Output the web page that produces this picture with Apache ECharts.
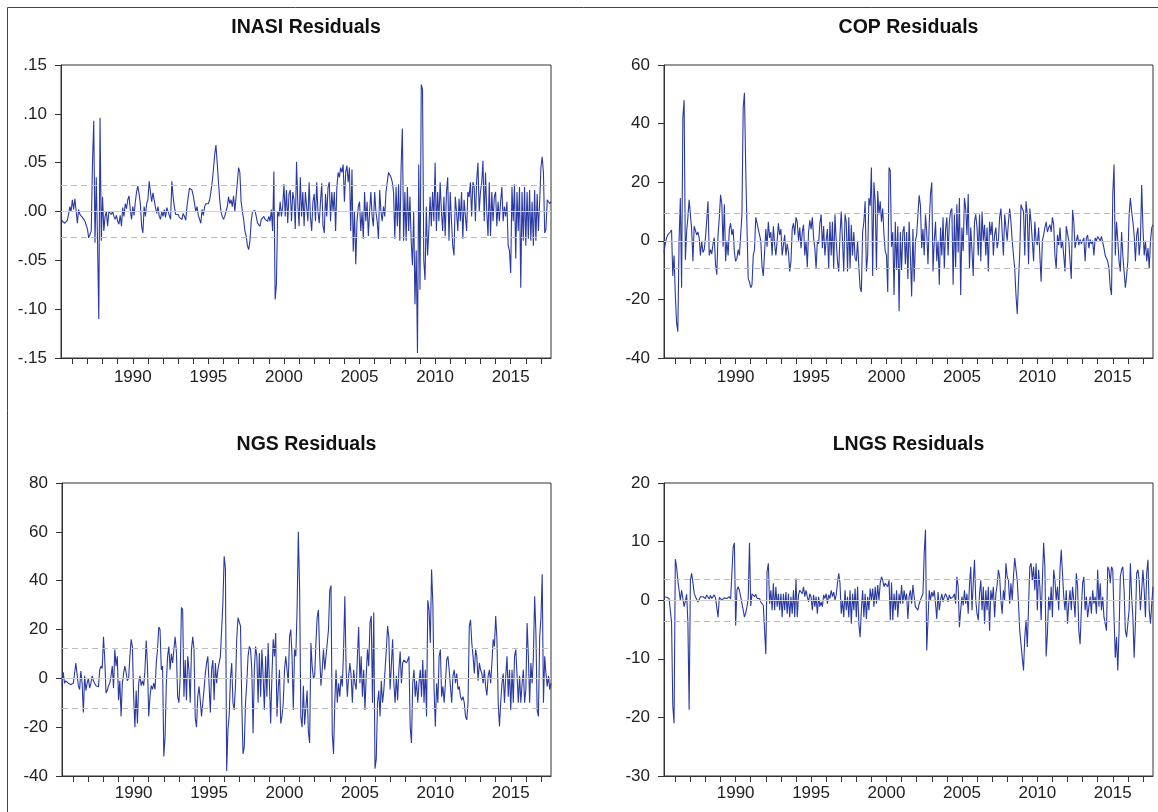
<!DOCTYPE html>
<html><head><meta charset="utf-8">
<script src="https://cdn.jsdelivr.net/npm/echarts@6/dist/echarts.min.js"></script>
<style>html,body{margin:0;padding:0;background:#fff;}#c{width:1158px;height:812px;}</style>
</head><body><div id="c"></div>
<script>
// Monthly sample 1985M04 - 2017M09
const startYear = 1985, startMonth = 4, endYear = 2017, endMonth = 9;
const yearLabels = [1990, 1995, 2000, 2005, 2010, 2015];
const tickYears = [1986,1987,1988,1989,1990,1991,1992,1993,1994,1995,1996,1997,1998,1999,2000,2001,
                   2002,2003,2004,2005,2006,2007,2008,2009,2010,2011,2012,2013,2014,2015,2016,2017];
const titles = ['INASI Residuals', 'COP Residuals', 'NGS Residuals', 'LNGS Residuals'];

const inasi = [
-0.006,-0.010,-0.011,-0.012,-0.012,-0.009,-0.003,0.005,0.000,
0.012,0.002,0.013,0.014,-0.012,0.002,-0.003,-0.005,-0.006,-0.008,-0.010,-0.012,
-0.018,-0.027,-0.028,-0.020,0.050,0.093,-0.032,0.035,-0.030,-0.110,0.096,-0.030,
0.015,-0.020,-0.005,0.000,-0.015,0.000,0.001,-0.003,0.000,-0.005,-0.008,-0.004,
-0.010,-0.013,-0.004,-0.015,0.004,-0.005,0.008,0.003,0.012,0.016,0.002,-0.008,
0.005,-0.004,0.010,0.020,0.026,0.018,0.008,-0.015,-0.022,0.005,-0.005,0.008,
0.012,0.031,0.020,0.010,0.019,0.012,0.004,-0.002,0.005,-0.005,-0.008,0.000,
-0.005,0.002,-0.006,0.004,0.003,-0.004,-0.008,0.031,0.015,0.005,-0.003,-0.004,
-0.003,-0.006,-0.004,-0.008,-0.002,-0.005,-0.009,0.005,0.015,0.024,0.026,0.022,
0.016,0.008,0.000,0.005,-0.004,-0.008,-0.012,0.002,-0.004,0.005,0.008,0.010,
0.008,0.012,0.020,0.030,0.043,0.058,0.068,0.050,0.030,0.012,0.000,-0.005,
-0.008,-0.005,0.000,0.005,0.015,0.008,0.012,0.005,0.016,0.000,0.015,0.030,
0.045,0.040,0.010,0.000,-0.008,-0.020,-0.025,-0.035,-0.039,-0.030,-0.010,0.000,
0.000,0.001,-0.005,-0.012,-0.010,-0.015,-0.008,-0.010,-0.005,-0.008,-0.006,-0.010,
-0.005,-0.010,0.002,-0.020,0.041,-0.090,-0.075,0.000,-0.005,0.010,-0.005,0.005,
0.028,-0.005,0.022,-0.012,0.018,0.022,-0.010,0.020,0.012,-0.018,0.051,0.008,
-0.015,0.035,-0.005,0.020,-0.015,0.020,0.005,-0.010,0.030,-0.005,-0.020,0.010,
0.018,-0.010,0.030,0.000,-0.012,0.010,0.029,-0.015,-0.022,0.018,-0.005,0.025,
0.030,-0.010,0.020,0.000,0.020,-0.020,0.025,0.040,0.035,0.045,0.040,0.048,
0.010,0.040,0.047,0.030,0.045,-0.020,0.043,-0.041,0.000,-0.054,-0.010,0.005,
0.010,-0.020,0.000,-0.028,0.020,-0.010,0.010,-0.025,0.000,0.020,-0.005,-0.015,
0.020,0.000,-0.010,-0.028,0.022,0.000,-0.010,0.005,-0.005,0.020,0.030,0.040,
0.040,0.035,0.030,0.020,-0.028,0.025,-0.015,0.028,-0.030,0.045,0.085,-0.030,
0.020,-0.030,0.025,-0.020,0.015,-0.030,-0.055,0.000,-0.095,-0.040,-0.145,0.048,
-0.080,0.130,0.125,-0.050,-0.070,0.005,-0.045,-0.020,0.015,-0.015,0.020,-0.010,
0.050,-0.020,0.020,-0.010,0.030,0.000,-0.020,0.015,-0.025,0.020,0.035,-0.030,
0.020,-0.010,-0.035,-0.045,0.015,0.000,-0.020,0.013,-0.010,0.020,-0.028,0.012,
0.010,-0.020,0.020,0.015,0.030,-0.005,0.030,0.025,-0.010,0.032,0.050,0.000,
0.020,0.030,0.052,-0.010,0.040,0.000,-0.025,0.030,-0.025,0.020,-0.010,0.015,
0.020,-0.015,0.010,-0.010,0.010,0.025,-0.010,0.005,-0.005,0.010,-0.035,-0.040,
-0.063,0.025,-0.010,0.028,-0.048,0.020,-0.020,0.025,-0.078,0.020,-0.030,0.025,
-0.035,0.020,-0.028,0.022,-0.030,0.010,-0.035,0.022,-0.030,0.018,-0.020,0.010,
0.045,0.056,0.040,-0.022,-0.018,0.012,0.010,0.008,0.010
];

const cop = [
-4,-1,1,2,1.5,3,3.7,-12,-5,
-18.5,-28,-31,0,14.6,-16,42,48,-6.5,3,8,14,
13.5,4,-7,5,4.5,2,3,1,-5,0,-4,-3,
1,7,13.5,-5,-3,-4.5,-1,1,-8,-11.6,2,8,
15.7,12.5,-2,12.5,-7,0,-5,4,6,2,4,-4,
-7,-6,-3,-5,2,9,45.5,50.5,25,5,-13,-14,
-16,-15,-5,-3,8,8,4,2,0,-9,-12,-4,
4,-2,6.5,1,3,-5,5,-1,-5,0,6,2,
4,-5,-1.5,2,-5,-1,-4,-10.5,-7,4,6,2,
8,6.5,0,4.5,-2.5,3,5.5,-5,0,-9,3,7,
4,8,1,-2.5,-9.5,0,-1,6,9,-2.5,5,-5,
0,4,-9.5,6.5,-5,6.5,-9.5,9,0,-7,-10.5,2,
10,0,-10.5,9,6.5,-10.5,8,-9.5,5.5,-5,3,-6,
-7,0,-9,-16,-17.5,3,6.5,13.5,-10.5,-5,14.6,12,
25,-12,20,13.5,-10,17,9,13.5,6.5,11,2,-3.5,
-5,-17.5,25,24,-2,3,-18.5,6.5,-10,5,-24,3,
-10,3,5,-8,3,-13,6.5,-5,-19,4,-14,0,
2,9,15.5,12,-2.5,4,-5,9,3,-8,6,16,
20,-10.5,0,6.5,-7,0,-15,4.5,-5,8,-9.5,4,
8,-5,6.5,10,11,-15,9,-9,12.5,-4,14.6,-18.5,
4.5,-3.5,14.6,11,2,16,-9.5,4.5,-3.5,-12,6.5,9,
4.5,-5,9,-7,10,0,5.5,-5,4.5,-10.5,6.5,2,
6.5,-5,2,4.5,-2.5,0,8,11,3,-5,9,4.5,
0,6.5,11,6.5,0,-5,-9.5,-18.5,-25,-14,-4,12.4,
11,10,-5,13.5,9,-8,11,6.5,0,-7,6.5,0,
-1.5,4.5,-5,-14,0,2,4.5,6.5,3,4.5,5.5,3,
8,5.5,-5,-9.5,2,-1.5,4.5,-2.5,0,-5,-10.5,5,
4.5,0,-7,-13,10.5,6.5,-2.5,0,2,-1.5,0.5,-1,
0,1,-7,1,2,-2.5,0.5,-1,0,-5,1,0,
1.5,2,0,1.5,1,-2.5,-5,-5,-7,-9.5,-16,-18.5,
15.8,26,-5,6.5,0,-7,-10.5,3,-5,-10.5,-16,-12,
-7,9,14.6,10,6.5,2,-7,2,4.5,-5,0,19,
4.5,-5,0,-7,-2.5,-9.5,0,4.5,5.5
];

const ngs = [
-3,2.5,-2,-1,-1.5,-2,-1.5,-2.5,-3,
-2,2,6.3,6.5,-3,-4.6,3,-2,-14,1,-5,-2,
0,-4,-2,1,-1,-2,-3,-2.5,-3.5,3.5,5,4,
17,8,-6,-5,-3,-2,1,5,-4,11.8,5,9,
-9,-1,-15.6,-2,2,5,2.5,-1,0,9,16,13,
-7.5,-20,-5,-18.5,-2,1,-3,-1,-3,3.5,15.5,5,
-15.6,-7.5,-3,-4.5,-2,-4.5,6.3,12,21,20,3.5,5,
-32,-24,-2,9,13,3.5,10,6.3,11.8,17,11,-7.5,
-10,0,29,28,-7.5,7.5,-9,9,3.5,-10,11.8,17,
12,-16.3,-20,-7.5,-3.3,-9,-15.6,-10,-4.6,2,6.3,9,
9,-14,3.5,7.5,-9,6.3,-2,3.5,6.3,9,20,31,
50,45,-38,-21,-15,0,6.3,-10,-13,-3,16,24.8,
24,21.4,-10,-31,-28,-10,-2,9,13,12,3.5,-22.5,
3.5,13,9,-10,10.4,-7.5,11.8,1,-13,9,-7.5,14.5,
-2,-18.5,1,16,9,18.6,-15.6,-4.6,3.5,-18.5,-15.6,-10,
3.5,9,3.5,-2,17,20,9,-13,11.8,9,28,60,
37,-16,-20,-3,-19,-12,-5,-22,-26.5,14.5,5,0,
1,14.5,25,28,9,-3,3.5,11.8,3.5,9,14.5,20,
36,38,-22.5,-31,-10,3.5,-10,-2,-7.5,1,-3.3,11.8,
33.6,4,-7.5,1,6.3,1,-10,3.5,-2,-4.6,9,21,
-2,9,-7.5,3.5,-13,1,11.8,5,22.7,25.5,-10,27,
-37,-33,-10,-5,-15.6,-1,-10,-5,3.5,11.8,21.4,17,
-4.6,5,16,-2,-10,1,-9,3.5,11,-2,6.3,7.5,
7.5,6.3,7.5,9,-20,-26.5,-2,3.5,-7.5,-1,-10,-2,
3.5,-7.5,7.5,-10,3.5,-15.6,32,28,14.5,44.6,31,-5,
-19.7,-2,-10,9,11.8,-7.5,-3.3,-10,-2,7.5,9,3.5,
-3.3,-10,1,3.5,-2,2,-4.6,-3.3,-7.5,-9,-7.5,-10,
-15.6,-17,-10,21.4,24,14.5,9,2,11.8,9,-1,6.3,
3.5,2,-2,3.5,-3.3,-7,1,3.5,-2,6.3,16,13,
25.5,16,-10,-19.7,-10,-2,2,-10,1,9,-7.5,3.5,
-13,3.5,-10,9,11.8,1,-10,1,-10,-2,3.5,-10,
-4.6,22.7,9,-10,6.3,-2,9,33.6,18.6,-13,-15.6,17,
24.8,42.6,-10,9,2,-3.3,1,-4.6,-2
];

const lngs = [
0.6,0.5,0.5,0.4,0.3,0.1,-3.7,-18,-21,
7,5.7,3.4,1.7,0,1.7,2,-1.1,-0.2,1,-3.7,-18.7,
3.4,4.6,3,1.2,0.6,0.3,-0.3,0.1,0.6,0.9,0.6,0.5,
0.3,0.9,0.6,0.2,0.8,0.3,0.6,0.9,0.4,0.6,-2.9,0.5,
0.3,0,0.3,0.4,0.6,0.3,0.5,0.6,0.2,0.4,9,9.8,
-4.3,1.7,2.3,1.7,0.6,-0.6,-1.7,-2.9,-2.2,-1.1,0.3,9.8,
-1,1.1,0.9,0.6,1,0.3,0.1,0.3,-0.3,-0.6,-0.9,-1.1,
-9.2,4.9,6.3,-0.6,1.7,-1.7,2.9,-1.7,2.3,-1.1,1.1,-1.7,
1.1,-2.9,1.1,-1.7,1.4,-2.3,1.1,-2.9,0.6,-2.3,1.7,-2.9,
3.7,-2.9,0.9,1.7,2,1.1,2.3,0.6,1.7,0.6,-0.3,1.1,
0.6,-1.7,0.9,-1.1,0.6,-2.3,0.6,-1.1,-0.3,-1.1,0.9,0.3,
1.1,-0.6,0.9,0.3,1.7,0.6,1.4,0,0.9,2.9,4.6,2.9,
-2.3,0,-2.9,1.7,-1.7,0.6,-2.9,1.7,-4,1.1,-1.7,2,
-2.9,2.3,-4,-6.3,-1.7,1.7,-2.9,1.1,-3.2,0.6,-1.7,2,
0,2,-1.1,2.3,-0.6,2.6,0,2.9,4,3.4,2.3,2.9,
3.2,2.3,3.4,-3.4,3,-3.4,1.1,-1.7,1.7,-2.9,1.1,-0.6,
2.6,-0.6,1.7,0,1.1,-3.2,0.6,1.7,-0.6,2.6,0.6,-1.1,
-1.1,-1.7,-0.6,0,0.6,1.1,8,12,-8.6,-3.4,1.7,0,
1.4,0.6,1.7,-0.6,-3.2,1.4,-1.7,0,1.1,-0.3,0.6,1.1,
0.6,-0.3,0.9,0.3,0,0.6,1.1,-0.6,4,2.3,-4.6,-1.7,
0.6,-0.9,1.7,-0.6,1.1,-2.3,2.6,5.7,-1.7,2.9,6.9,0,
-2.3,-3.4,1.1,3.4,-1.7,2.3,-4,1.7,-1.7,2.3,-5.2,1.7,
0,2.3,-2.9,1.1,2.6,5.2,4,0,-2.3,1.7,0,6.3,
4,3.4,-0.6,2.9,0,4,7.2,7.5,3.4,-0.6,-5.2,-7.5,
-9.8,-12,-6.3,-3.4,-8,-1,5.7,6.3,3.4,5.7,1.7,6.3,
-1.7,5.2,2.3,-3.4,3.4,9.8,5.7,-9.6,-5.7,0.6,-1.7,2.3,
-2.9,5.2,3.4,0,2.3,-1.7,5.2,8.6,8.6,0.6,-1.7,1.7,
-4,-0.6,1.7,-1.7,2.3,0,-2.9,4.6,2.3,-5.2,-7.5,-1.7,
2.9,4,-1.7,0.6,-2.9,-1.1,0.6,-2.3,1.7,-0.6,0.6,-2.3,
5.2,-1.1,2.9,-1.7,0.6,-2.9,-4,-5.2,5.7,5.2,2.9,5.7,
5.2,-2.9,-9.8,-6.3,-12,-5.2,4,5.2,5.7,1.7,-5.2,-6.3,
-6.3,-1.7,6.3,0.6,-2.9,-9.8,-4,4.6,5.2,3.4,-1.7,1.7,
5.2,1.7,-2.9,4.6,6.9,-1.7,-4,-0.6,2.3
];

// +/- 2 S.E. bands
const bands = [0.0265, 9.3, 12.4, 3.65];
const yMin = [-0.15, -40, -40, -30];
const yMax = [0.15, 60, 80, 20];
const yStep = [0.05, 20, 20, 10];

// month positions as fractional years (Jan = year.0)
const xs = [];
for (let y = startYear, m = startMonth; y < endYear || (y === endYear && m <= endMonth); ) {
  xs.push(y + (m - 1) / 12);
  m++; if (m > 12) { m = 1; y++; }
}
const seriesData = [inasi, cop, ngs, lngs];
seriesData.forEach((d, i) => { if (d.length !== xs.length) console.log('length mismatch', i, d.length, xs.length); });

const FONT = '"Liberation Sans", Arial, Helvetica, sans-serif';
const LINE = '#2a3aa3';
const gridsPos = [
  { left: 61, top: 65, width: 490, height: 293 },
  { left: 664, top: 65, width: 489, height: 293 },
  { left: 62, top: 483, width: 489, height: 293 },
  { left: 664, top: 483, width: 489, height: 293 }
];
const labelMargins = [11, 11, 9, 9];

function fmtY(i) {
  if (i === 0) return v => { const s = Math.abs(v).toFixed(2).replace(/^0/, ''); return (v < -1e-9 ? '-' : '') + s; };
  return v => String(Math.round(v));
}

const grid = [], xAxis = [], yAxis = [], series = [], graphic = [];
gridsPos.forEach((g, i) => {
  grid.push(Object.assign({ show: true, borderColor: '#333', borderWidth: 1, backgroundColor: 'transparent', containLabel: false, outerBoundsMode: 'none' }, g));
  xAxis.push({
    type: 'value', gridIndex: i, min: xs[0], max: xs[xs.length - 1], scale: true,
    axisLine: { show: true, onZero: false, lineStyle: { color: '#333', width: 1 } },
    axisTick: { show: true, customValues: tickYears, length: 6, lineStyle: { color: '#333', width: 1 } },
    axisLabel: { show: true, customValues: yearLabels, formatter: v => String(Math.round(v)), fontSize: 17, color: '#222', fontFamily: FONT, margin: labelMargins[i], hideOverlap: false },
    splitLine: { show: false }
  });
  yAxis.push({
    type: 'value', gridIndex: i, min: yMin[i], max: yMax[i], interval: yStep[i],
    axisLine: { show: true, lineStyle: { color: '#333', width: 1 } },
    axisTick: { show: true, length: 6, lineStyle: { color: '#333', width: 1 } },
    axisLabel: { show: true, formatter: fmtY(i), fontSize: 17, color: '#222', fontFamily: FONT, margin: 14 },
    splitLine: { show: false }
  });
  series.push({
    type: 'line', xAxisIndex: i, yAxisIndex: i, data: [], z: 1, silent: true,
    markLine: {
      silent: true, symbol: 'none', animation: false, precision: 5, label: { show: false },
      data: [
        { yAxis: 0, lineStyle: { type: 'solid', color: '#cfcfcf', width: 1 } },
        { yAxis: bands[i], lineStyle: { type: [6, 4], color: '#bdbdbd', width: 1 } },
        { yAxis: -bands[i], lineStyle: { type: [6, 4], color: '#bdbdbd', width: 1 } }
      ]
    }
  });
  series.push({
    type: 'line', xAxisIndex: i, yAxisIndex: i, z: 3,
    data: seriesData[i].map((v, k) => [xs[k], v]),
    showSymbol: false, symbol: 'none', silent: true,
    lineStyle: { color: LINE, width: 1.1 }
  });
  graphic.push({
    type: 'text', x: g.left + g.width / 2, y: i < 2 ? 28 : 445, silent: true,
    style: { text: titles[i], fill: '#111', font: 'bold 19.5px ' + FONT, textAlign: 'center', textVerticalAlign: 'middle', verticalAlign: 'middle' }
  });
});
graphic.push({ type: 'rect', silent: true, shape: { x: 7.5, y: 7.5, width: 1200, height: 900 }, style: { fill: 'none', stroke: '#444', lineWidth: 1 } });

const chart = echarts.init(document.getElementById('c'), null, { renderer: 'canvas' });
chart.setOption({ animation: false, backgroundColor: '#fff', grid, xAxis, yAxis, series, graphic });
</script></body></html>
